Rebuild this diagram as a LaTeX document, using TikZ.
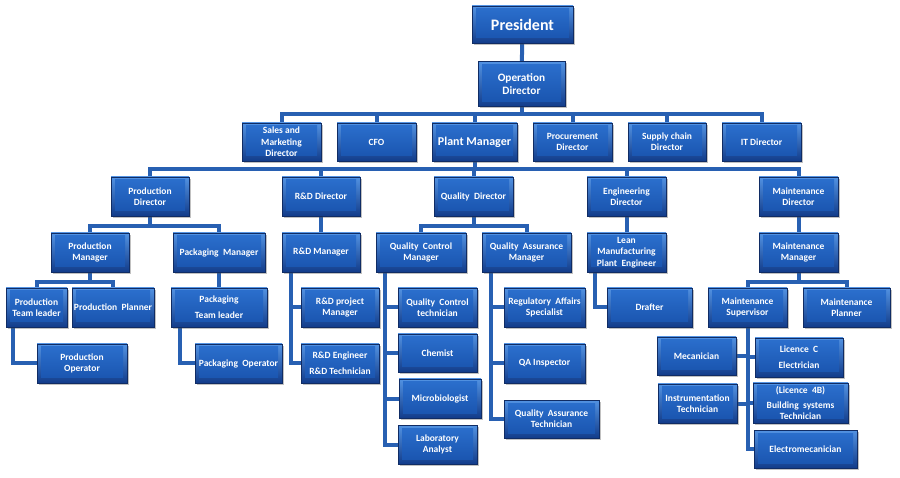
\documentclass[tikz,border=0pt]{standalone}
\usepackage{fontspec}
\setmainfont{Carlito}
\usetikzlibrary{shadows}
\pgfdeclarelayer{background}
\pgfsetlayers{background,main}
\definecolor{boxtop}{RGB}{82,146,226}
\definecolor{boxbot}{RGB}{18,60,138}
\definecolor{facetop}{RGB}{44,112,206}
\definecolor{facebot}{RGB}{24,82,172}
\definecolor{boxedge}{RGB}{16,44,100}
\definecolor{connc}{RGB}{40,96,178}
\tikzset{
  orgbox/.style={rectangle, draw=boxedge, line width=0.5pt,
    top color=boxtop, bottom color=boxbot, text=white, align=center,
    inner sep=0pt, font=\bfseries\fontsize{9.5}{11.3}\selectfont,
    drop shadow={shadow xshift=1.5pt, shadow yshift=-2pt, opacity=0.35, fill=black!70},
    path picture={\shade[top color=facetop, bottom color=facebot]
      ([shift={(4pt,-3pt)}]path picture bounding box.north west) rectangle
      ([shift={(-4pt,5pt)}]path picture bounding box.south east);}},
  conn/.style={draw=connc, line width=4pt, line join=miter},
  bigtext/.style={font=\bfseries\fontsize{16}{18}\selectfont},
  midtext/.style={font=\bfseries\fontsize{11.3}{13}\selectfont},
  pmtext/.style={font=\bfseries\fontsize{12}{14}\selectfont},
}
\begin{document}
\begin{tikzpicture}[x=1pt,y=-1pt]
\useasboundingbox (0,0) rectangle (900,478);
% top
\node[orgbox,bigtext,minimum width=101pt,minimum height=37pt] (pres) at (522.5,24.5) {President};
\node[orgbox,midtext,minimum width=87pt,minimum height=45pt] (op) at (521.5,84) {Operation\\Director};
% row 1
\node[orgbox,minimum width=79pt,minimum height=38pt] (sales) at (281.5,142) {Sales and\\Marketing\\Director};
\node[orgbox,minimum width=79pt,minimum height=38pt] (cfo) at (376.5,142) {CFO};
\node[orgbox,pmtext,minimum width=85pt,minimum height=38pt] (plant) at (474.5,142) {Plant Manager};
\node[orgbox,minimum width=79pt,minimum height=38pt] (proc) at (572.5,142) {Procurement\\Director};
\node[orgbox,minimum width=78pt,minimum height=38pt] (supply) at (667,142) {Supply chain\\Director};
\node[orgbox,minimum width=79pt,minimum height=38pt] (it) at (761.5,142) {IT Director};
% row 2
\node[orgbox,minimum width=78pt,minimum height=39pt] (pd) at (150,196.5) {Production\\Director};
\node[orgbox,minimum width=78pt,minimum height=39pt] (rdd) at (321,196.5) {R\&D Director};
\node[orgbox,minimum width=79pt,minimum height=39pt] (qd) at (473.5,196.5) {Quality~ Director};
\node[orgbox,minimum width=79pt,minimum height=39pt] (ed) at (626.5,196.5) {Engineering\\Director};
\node[orgbox,minimum width=79pt,minimum height=39pt] (md) at (798.5,196.5) {Maintenance\\Director};
% row 3
\node[orgbox,minimum width=78pt,minimum height=39pt] (pm) at (90,252.5) {Production\\Manager};
\node[orgbox,minimum width=92pt,minimum height=39pt] (pkm) at (219,252.5) {Packaging~ Manager};
\node[orgbox,minimum width=78pt,minimum height=39pt] (rdm) at (321,252.5) {R\&D Manager};
\node[orgbox,minimum width=90pt,minimum height=39pt] (qcm) at (421,252.5) {Quality~ Control\\Manager};
\node[orgbox,minimum width=89pt,minimum height=39pt] (qam) at (526.5,252.5) {Quality~ Assurance\\Manager};
\node[orgbox,minimum width=79pt,minimum height=39pt] (lean) at (626.5,252.5) {Lean\\Manufacturing\\Plant~ Engineer};
\node[orgbox,minimum width=79pt,minimum height=39pt] (mm) at (798.5,252.5) {Maintenance\\Manager};
% row 4
\node[orgbox,minimum width=61pt,minimum height=39pt] (ptl) at (36.5,307.5) {Production\\Team leader};
\node[orgbox,minimum width=82pt,minimum height=39pt] (pp) at (113,307.5) {Production~ Planner};
\node[orgbox,minimum width=96pt,minimum height=39pt] (pktl) at (219,307.5) {Packaging\\[5pt]Team leader};
\node[orgbox,minimum width=78pt,minimum height=39pt] (rdpm) at (340,307.5) {R\&D project\\Manager};
\node[orgbox,minimum width=79pt,minimum height=39pt] (qct) at (437.5,307.5) {Quality~ Control\\technician};
\node[orgbox,minimum width=81pt,minimum height=39pt] (ras) at (544.5,307.5) {Regulatory~ Affairs\\Specialist};
\node[orgbox,minimum width=85pt,minimum height=39pt] (dr) at (649.5,307.5) {Drafter};
\node[orgbox,minimum width=79pt,minimum height=39pt] (ms) at (747.5,307.5) {Maintenance\\Supervisor};
\node[orgbox,minimum width=87pt,minimum height=39pt] (mp) at (846.5,307.5) {Maintenance\\Planner};
% row 5
\node[orgbox,minimum width=90pt,minimum height=39pt] (pop) at (82,363.5) {Production\\Operator};
\node[orgbox,minimum width=87pt,minimum height=39pt] (pko) at (238.5,363.5) {Packaging~ Operator};
\node[orgbox,minimum width=78pt,minimum height=39pt] (rde) at (340,363.5) {R\&D Engineer\\[5pt]R\&D Technician};
\node[orgbox,minimum width=79pt,minimum height=38pt] (chem) at (437.5,353) {Chemist};
\node[orgbox,minimum width=81pt,minimum height=39pt] (qai) at (544.5,363.5) {QA Inspector};
\node[orgbox,minimum width=79pt,minimum height=38pt] (mec) at (696.5,356) {Mecanician};
\node[orgbox,minimum width=88pt,minimum height=39pt] (licc) at (799,357.5) {Licence~ C\\[5pt]Electrician};
% row 6
\node[orgbox,minimum width=82pt,minimum height=39pt] (micro) at (440,398.5) {Microbiologist};
\node[orgbox,minimum width=79pt,minimum height=39pt] (instr) at (697.5,403.5) {Instrumentation\\Technician};
\node[orgbox,minimum width=95pt,minimum height=40pt] (bld) at (800.5,403) {(Licence~ 4B)\\[4pt]Building~ systems\\Technician};
\node[orgbox,minimum width=95pt,minimum height=38pt] (qat) at (551.5,419) {Quality~ Assurance\\Technician};
% row 7
\node[orgbox,minimum width=79pt,minimum height=39pt] (lab) at (437.5,444.5) {Laboratory\\Analyst};
\node[orgbox,minimum width=103pt,minimum height=38pt] (em) at (805.5,449) {Electromecanician};
% bus levels
\coordinate (bus1) at (0,114);
\coordinate (bus2) at (0,169);
\coordinate (bus3) at (0,226);
\coordinate (bus4) at (0,282);
\begin{pgfonlayer}{background}
\draw[conn] (pres) -- (op);
\foreach \c in {sales,cfo,plant,proc,supply,it}
  \draw[conn] (op.south) -- (op.south |- bus1) -| (\c.north);
\foreach \c in {pd,rdd,qd,ed,md}
  \draw[conn] (plant.south) -- (plant.south |- bus2) -| (\c.north);
\foreach \c in {pm,pkm}
  \draw[conn] (pd.south) -- (pd.south |- bus3) -| (\c.north);
\foreach \c in {qcm,qam}
  \draw[conn] (qd.south) -- (qd.south |- bus3) -| (\c.north);
\draw[conn] (rdd) -- (rdm);
\draw[conn] (ed) -- (lean);
\draw[conn] (md) -- (mm);
\draw[conn] (pkm) -- (pktl);
\foreach \c in {ptl,pp}
  \draw[conn] (pm.south) -- (pm.south |- bus4) -| (\c.north);
\foreach \c in {ms,mp}
  \draw[conn] (mm.south) -- (mm.south |- bus4) -| (\c.north);
\draw[conn] ([xshift=7pt]ptl.south west) |- (pop.west);
\draw[conn] ([xshift=9pt]pktl.south west) |- (pko.west);
\foreach \c in {rdpm,rde}
  \draw[conn] ([xshift=9pt]rdm.south west) |- (\c.west);
\foreach \c in {qct,chem,micro,lab}
  \draw[conn] ([xshift=9pt]qcm.south west) |- (\c.west);
\foreach \c in {ras,qai,qat}
  \draw[conn] ([xshift=9pt]qam.south west) |- (\c.west);
\draw[conn] ([xshift=8pt]lean.south west) |- (dr.west);
\foreach \c in {mec,instr}
  \draw[conn] (ms.south) |- (\c.east);
\foreach \c in {licc,bld,em}
  \draw[conn] (ms.south) |- (\c.west);
\end{pgfonlayer}
\end{tikzpicture}
\end{document}
